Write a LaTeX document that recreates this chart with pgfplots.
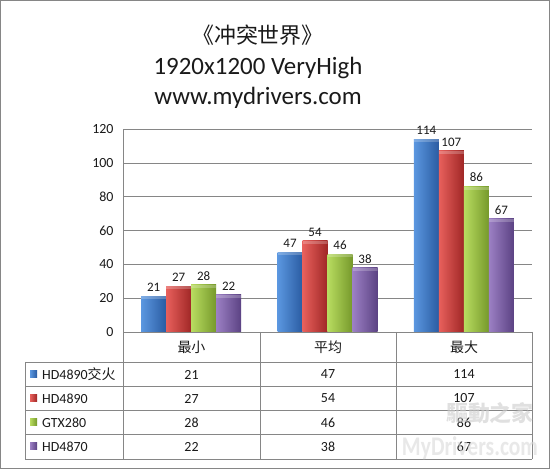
\documentclass[border=0pt]{standalone}
\usepackage{pgfplots}
\usepackage{pgfplotstable}
\pgfplotsset{compat=1.18}
\usepackage{fontspec}
\setmainfont{Carlito}
\newfontfamily\cjk{Noto Sans CJK SC}

\definecolor{blueL}{HTML}{5B97E0}\definecolor{blueM}{HTML}{3F7BCB}\definecolor{blueD}{HTML}{2A5CA2}
\definecolor{redL}{HTML}{E8605C}\definecolor{redM}{HTML}{D03C39}\definecolor{redD}{HTML}{A02726}
\definecolor{grnL}{HTML}{B8DC60}\definecolor{grnM}{HTML}{9CC43F}\definecolor{grnD}{HTML}{76992B}
\definecolor{purL}{HTML}{9C80C4}\definecolor{purM}{HTML}{8062A8}\definecolor{purD}{HTML}{5B4283}
\definecolor{gridgray}{HTML}{868686}
\definecolor{txt}{HTML}{1A1A1A}

% frame rates: one row per category (最小, 平均, 最大)
\pgfplotstableread{
x A B C D
0 21 27 28 22
1 47 54 46 38
2 114 107 86 67
}\fps

\newcommand{\fs}[1]{\fontsize{#1}{#1}\selectfont}

\pgfplotsset{
  % light bevel along the top of each bar, drawn with basic-layer commands
  glossy/.style={draw=none,
    path picture={%
      \pgfsetfillcolor{white}\pgfsetfillopacity{0.22}%
      \pgfpathrectangle{\pgfpointanchor{path picture bounding box}{north west}}{\pgfpoint{25bp}{-3bp}}%
      \pgfusepath{fill}}},
  serA/.style={glossy, left color=blueL, middle color=blueM, right color=blueD, bar shift=-37.5bp},
  serB/.style={glossy, left color=redL,  middle color=redM,  right color=redD,  bar shift=-12.5bp},
  serC/.style={glossy, left color=grnL,  middle color=grnM,  right color=grnD,  bar shift=12.5bp},
  serD/.style={glossy, left color=purL,  middle color=purM,  right color=purD,  bar shift=37.5bp},
  only cat/.style={x filter/.expression={abs(x-#1)<0.1 ? x : nan}},
}

\begin{document}
\begin{tikzpicture}
\useasboundingbox (0,0) rectangle (550bp,469bp);
\fill[white] (0,0) rectangle (550bp,469bp);

\begin{axis}[
  at={(123bp,137bp)}, anchor=south west,
  scale only axis, width=409bp, height=203bp,
  xmin=-0.5, xmax=2.5, ymin=0, ymax=120,
  ytick={0,20,...,120}, xtick=\empty,
  axis x line=none, axis y line=left,
  axis line style={draw=gridgray,-},
  ymajorgrids, major grid style={draw=gridgray, line width=0.6bp},
  major tick length=0pt,
  /pgf/number format/assume math mode=true,
  yticklabel style={font=\fs{14}, text=txt, xshift=-6bp},
  ybar, bar width=25bp,
  clip=false,
  nodes near coords,
  every node near coord/.append style={font=\fs{13}, text=txt, yshift=1bp},
]
% each bar is its own plot so that every bar gets its own gradient
\pgfplotsinvokeforeach{0,1,2}{
  \addplot[serA, only cat=#1] table[x=x,y=A]{\fps};
  \addplot[serB, only cat=#1] table[x=x,y=B]{\fps};
  \addplot[serC, only cat=#1] table[x=x,y=C]{\fps};
  \addplot[serD, only cat=#1] table[x=x,y=D]{\fps};
}
\end{axis}

\begin{scope}[x=1bp, y=-1bp, yshift=469bp]
  % titles
  \node[font=\cjk\fs{22}, text=txt] at (258,35) {《冲突世界》};
  \node[font=\fs{25}, text=txt] at (258,68) {1920x1200 VeryHigh};
  \node[font=\fs{25}, text=txt] at (258,98) {www.mydrivers.com};

  % data table grid
  \begin{scope}[draw=gridgray, line width=0.8bp]
    \draw (123,332) -- (532,332);
    \foreach \yy in {362,386.5,410.5,434.5,459} \draw (25,\yy) -- (532,\yy);
    \draw (25,362) -- (25,459);
    \foreach \xx in {123,260,396,532} \draw (\xx,332) -- (\xx,459);
  \end{scope}

  % column headers
  \node[font=\cjk\fs{14}, text=txt] at (191.5,347) {最小};
  \node[font=\cjk\fs{14}, text=txt] at (328,347) {平均};
  \node[font=\cjk\fs{14}, text=txt] at (464,347) {最大};

  % series keys and names
  \foreach \yy/\cl/\cm/\cd/\name in {
      374.5/blueL/blueM/blueD/{HD4890{\cjk 交火}},
      398.5/redL/redM/redD/HD4890,
      422.5/grnL/grnM/grnD/GTX280,
      446.5/purL/purM/purD/HD4870} {
    \shade[left color=\cl, right color=\cd] (30,\yy-3.5) rectangle (37,\yy+3.5);
    \node[anchor=west, font=\fs{14}, text=txt, inner sep=0pt] at (42,\yy) {\name};
  }

  % table values
  \foreach \s/\yy in {A/374.5,B/398.5,C/422.5,D/446.5} {
    \foreach \r/\xx in {0/191.5,1/328,2/464} {
      \pgfplotstablegetelem{\r}{\s}\of\fps
      \node[font=\fs{14}, text=txt] at (\xx,\yy) {\pgfplotsretval};
    }
  }

  % watermark
  \node[font=\cjk\bfseries\fs{22}, text=gray!40, opacity=0.6] at (490,413) {驅動之家};
  \node[font=\bfseries\fs{27}, text=gray!30, opacity=0.6, xscale=0.8, inner sep=0pt] at (470,448) {MyDrivers.com};

  % outer frame
  \draw[gridgray, line width=1.2bp] (0.6,0.6) rectangle (549.4,468.4);
\end{scope}
\end{tikzpicture}
\end{document}
